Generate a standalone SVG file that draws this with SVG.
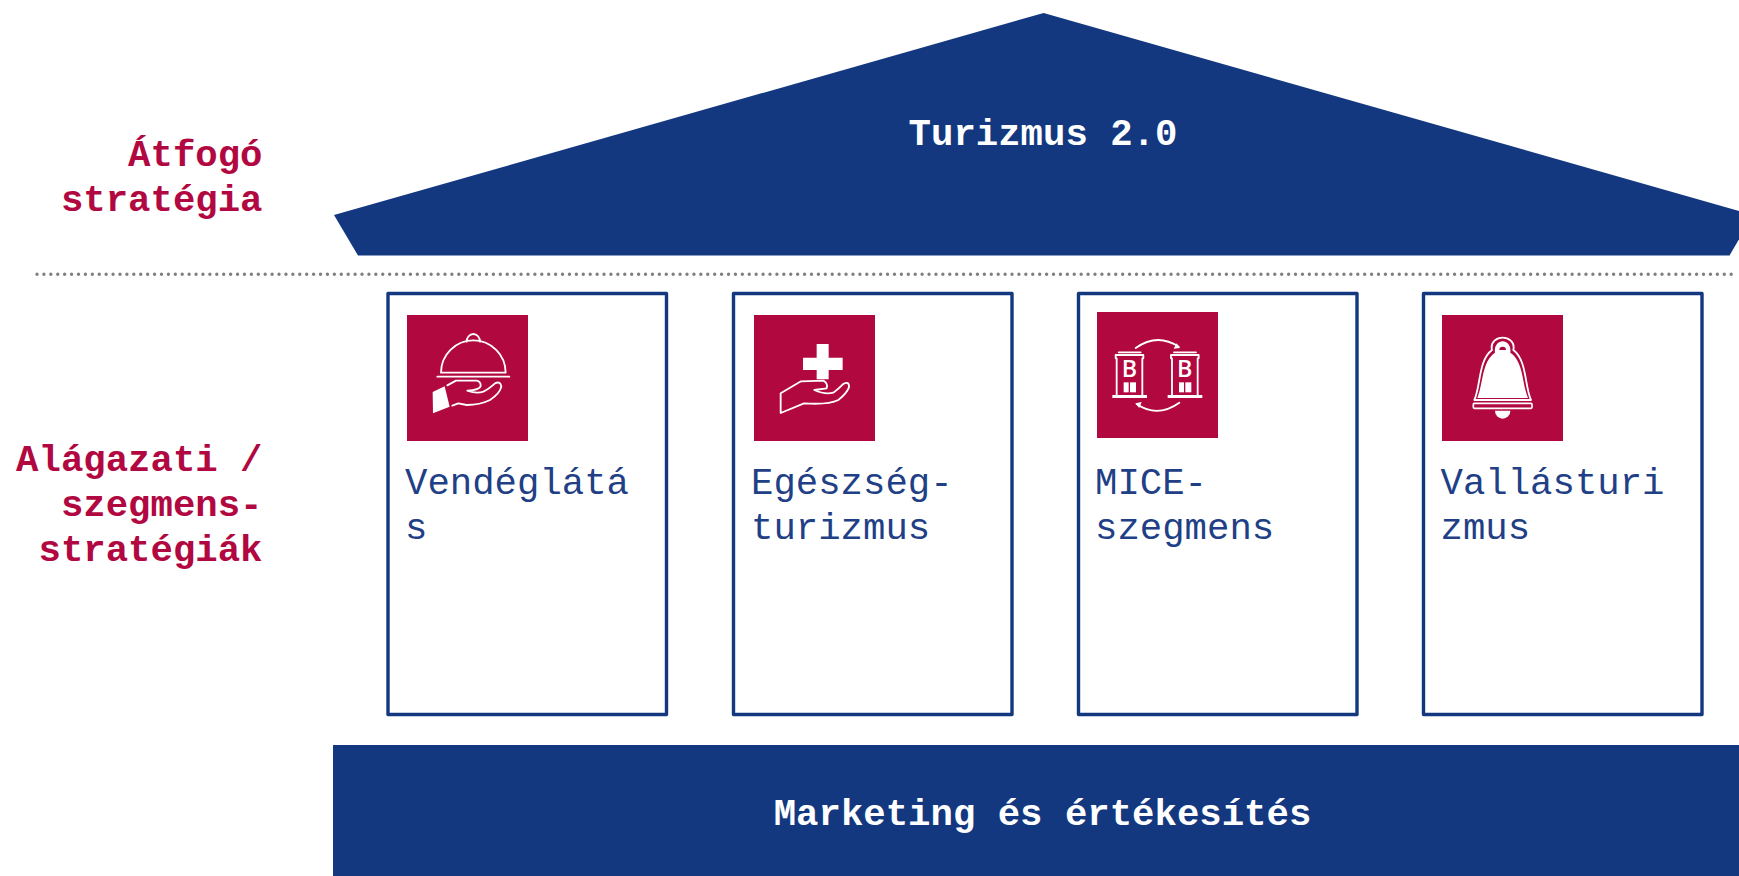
<svg xmlns="http://www.w3.org/2000/svg" width="1739" height="876" viewBox="0 0 1739 876">
<style>
text{font-family:"Liberation Mono","Courier New",monospace;font-size:37.33px}
.h{font-weight:700;fill:#b10842;text-anchor:end}
.w{font-weight:700;fill:#fff;text-anchor:middle}
.b{fill:#1f3f86}
.box{fill:#fff;stroke:#133880;stroke-width:3.4;stroke-linejoin:round}
.ic{fill:#b10840}
.s{fill:none;stroke:#fff;stroke-width:5.5;stroke-linejoin:round;stroke-linecap:round}
.f{fill:#fff;stroke:none}
</style>
<defs>
<g id="hotel">
<path class="s" d="M116 187H182M107 205V195H190V205M110 205V316M187 205V316"/>
<rect class="f" x="97" y="315" width="104" height="9"/>
<rect class="f" x="131" y="277" width="15" height="30"/>
<rect class="f" x="150" y="277" width="18" height="30"/>
<text x="148" y="262" text-anchor="middle" style="font-family:'Open Sans','Liberation Sans',sans-serif;font-size:70px;font-weight:600;fill:#fff">B</text>
</g>
</defs>
<rect width="1739" height="876" fill="#fff"/>
<g id="connectors">
<line x1="37" y1="274.3" x2="1732" y2="274.3" stroke="#7f7f7f" stroke-width="3.4" stroke-linecap="round" stroke-dasharray="0 6.915"/>
</g>
<g id="roof">
<path d="M1043.6 13L1753 215L1729.5 255.5H358L334 215Z" fill="#133880"/>
<text class="w" x="1043" y="145">Turizmus 2.0</text>
</g>
<g id="label-atfogo">
<text class="h" x="262.5" y="165.5">Átfogó</text>
<text class="h" x="262.5" y="210.5">stratégia</text>
</g>
<g id="label-szegmens">
<text class="h" x="262.5" y="471">Alágazati /</text>
<text class="h" x="262.5" y="516">szegmens-</text>
<text class="h" x="262.5" y="560.5">stratégiák</text>
</g>
<g id="pillar-vendeglatas">
<rect class="box" x="388" y="293.5" width="278.5" height="421"/>
<rect class="ic" x="407" y="315" width="121" height="126"/>
<g transform="translate(380 290) scale(.3333)">
<path class="s" d="M183 248A97 97 0 0 1 377 248ZM260 155A20 23 0 0 1 300 155M172 260H388"/>
<path class="s" d="M202 286L228 272H290Q303 275 302 288Q300 300 262 302Q290 312 310 305Q325 298 345 280Q362 272 364 290Q360 310 330 330Q300 345 260 345L235 340L217 347"/>
<path class="f" d="M158 306L194 289L209 350L159 370Z"/>
</g>
<text class="b" x="405" y="493.5">Vendéglátá</text>
<text class="b" x="405" y="538.5">s</text>
</g>
<g id="pillar-egeszseg">
<rect class="box" x="733.5" y="293.5" width="278.5" height="421"/>
<rect class="ic" x="754" y="315" width="121" height="126"/>
<g transform="translate(730 290) scale(.3333)">
<path class="f" d="M260 162H296V203H338V240H296V268H260V240H219V203H260Z"/>
<path class="s" d="M152 310L213 274L280 272Q295 280 290 295L253 300Q285 315 310 308Q325 298 340 282Q358 272 357 292Q350 310 325 330Q295 345 222 340L152 369Z"/>
</g>
<text class="b" x="751" y="493.5">Egészség-</text>
<text class="b" x="751" y="538.5">turizmus</text>
</g>
<g id="pillar-mice">
<rect class="box" x="1078.5" y="293.5" width="278.5" height="421"/>
<rect class="ic" x="1097" y="312" width="121" height="126"/>
<g transform="translate(1080 290) scale(.3333)">
<use href="#hotel"/>
<use href="#hotel" x="166"/>
<path class="s" d="M167 174Q232 128 296 170M298 338Q232 385 170 342"/>
<path class="f" d="M300 174L281 176L290 160ZM166 340L185 336L178 354Z"/>
</g>
<text class="b" x="1095" y="493.5">MICE-</text>
<text class="b" x="1095" y="538.5">szegmens</text>
</g>
<g id="pillar-vallasturizmus">
<rect class="box" x="1423.5" y="293.5" width="278.5" height="421"/>
<rect class="ic" x="1442" y="315" width="121" height="126"/>
<g transform="translate(1420 180) scale(.3333)">
<path class="s" d="M163 660C182 620 175 540 216 510C210 485 232 473 248 473C264 473 286 485 280 510C321 540 314 620 333 660Z"/>
<path class="f" d="M172 654C190 610 185 545 225 518C222 498 234 484 248 484C262 484 274 498 271 518C311 545 306 610 324 654Z"/>
<path fill="#b10840" d="M238 510A10 10 0 0 1 258 510Z"/>
<rect x="160" y="670" width="176" height="15" rx="3" fill="#b10840" stroke="#fff" stroke-width="5"/>
<path class="f" d="M225 692H271A23 24 0 0 1 225 692Z"/>
</g>
<text class="b" x="1440.5" y="493.5">Vallásturi</text>
<text class="b" x="1440.5" y="538.5">zmus</text>
</g>
<g id="foundation">
<rect x="333" y="745" width="1406" height="131" fill="#133880"/>
<text class="w" x="1042.5" y="825">Marketing és értékesítés</text>
</g>
</svg>
